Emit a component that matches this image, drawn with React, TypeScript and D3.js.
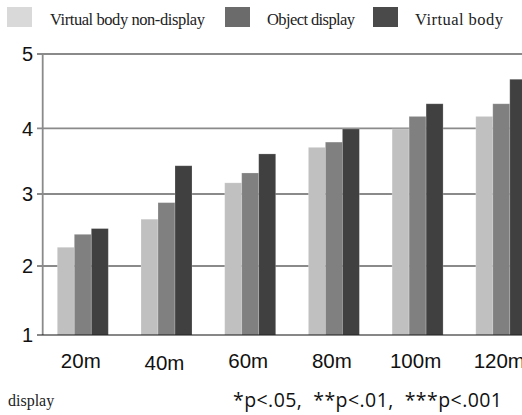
import React from "react";
import * as d3 from "d3";

const categories = ["20m", "40m", "60m", "80m", "100m", "120m"];
const seriesNames = ["Virtual body non-display", "Object display", "Virtual body"];
const nonDisplay = [2.26, 2.65, 3.17, 3.71, 3.99, 4.16];
const objectDisplay = [2.44, 2.88, 3.32, 3.79, 4.16, 4.33];
const virtualBody = [2.52, 3.43, 3.61, 3.99, 4.33, 4.66];
const yTicks = [1, 2, 3, 4, 5];
const labelDy = [0, 2, 0, 0, 0, 0];

const W = 522;
const H = 415;

export default function App() {
  const series = [nonDisplay, objectDisplay, virtualBody];
  const barColors = ["#c0c0c0", "#808080", "#404040"];
  const legendColors = ["#d9d9d9", "#6b6b6b", "#4a4a4a"];

  const y = d3.scaleLinear().domain(yTicks).range([335, 266, 194, 128.3, 54]);
  const x0 = d3
    .scaleBand<string>()
    .domain(categories)
    .range([43, 541.1])
    .paddingInner(0.3907)
    .paddingOuter(0.171);
  const x1 = d3
    .scaleBand<number>()
    .domain([0, 1, 2])
    .range([0, x0.bandwidth()]);

  const legendItems = [
    { sx: 7, tx: 50, tw: 155 },
    { sx: 225, tx: 267, tw: 88 },
    { sx: 373, tx: 415, tw: 88 },
  ];

  return (
    <svg
      width={W}
      height={H}
      style={{ position: "absolute", left: 0, top: 0, background: "#fff" }}
    >
      {/* legend */}
      {legendItems.map((l, i) => (
        <g key={i}>
          <rect x={l.sx} y={7} width={25} height={20} fill={legendColors[i]} />
          <text
            x={l.tx}
            y={24.5}
            fontFamily="Liberation Serif, serif"
            fontSize={16.5}
            fill="#222"
            textLength={l.tw}
            lengthAdjust="spacing"
          >
            {seriesNames[i]}
          </text>
        </g>
      ))}

      {/* gridlines */}
      {yTicks.slice(1).map((t) => (
        <line
          key={t}
          x1={37}
          x2={W}
          y1={y(t)}
          y2={y(t)}
          stroke="#8a8a8a"
          strokeWidth={1.8}
        />
      ))}
      {/* y axis */}
      <line x1={42.7} x2={42.7} y1={y(5)} y2={y(1)} stroke="#8a8a8a" strokeWidth={1.8} />
      {yTicks.map((t) => (
        <text
          key={t}
          x={33}
          y={y(t)}
          dy="0.36em"
          textAnchor="end"
          fontFamily="Liberation Sans, Arial, sans-serif"
          fontSize={20}
          fill="#111"
        >
          {t}
        </text>
      ))}

      {/* bars */}
      {categories.map((c, ci) => (
        <g key={c} transform={`translate(${x0(c)},0)`}>
          {series.map((s, si) => (
            <rect
              key={si}
              x={x1(si)}
              y={y(s[ci])}
              width={x1.bandwidth()}
              height={y(1) - y(s[ci])}
              fill={barColors[si]}
              stroke="#ffffff"
              strokeOpacity={0.25}
              strokeWidth={0.8}
            />
          ))}
        </g>
      ))}

      {/* baseline */}
      <line x1={37} x2={W} y1={y(1)} y2={y(1)} stroke="#111" strokeWidth={1.2} />

      {/* x labels */}
      {categories.map((c, ci) => (
        <text
          key={c}
          x={(x0(c) as number) + x0.bandwidth() / 2 - 2}
          y={368 + labelDy[ci]}
          textAnchor="middle"
          fontFamily="Liberation Sans, Arial, sans-serif"
          fontSize={20.5}
          fill="#111"
        >
          {c}
        </text>
      ))}

      {/* footer */}
      <text x={8} y={406} fontFamily="Liberation Serif, serif" fontSize={16} fill="#222">
        display
      </text>
      <text
        x={233}
        y={407}
        fontFamily="Open Sans, Noto Sans, sans-serif"
        fontSize={19.5}
        fill="#111"
        textLength={269}
        lengthAdjust="spacing"
        style={{ whiteSpace: "pre" }}
      >
        {"*p<.05,  **p<.01,  ***p<.001"}
      </text>
    </svg>
  );
}
